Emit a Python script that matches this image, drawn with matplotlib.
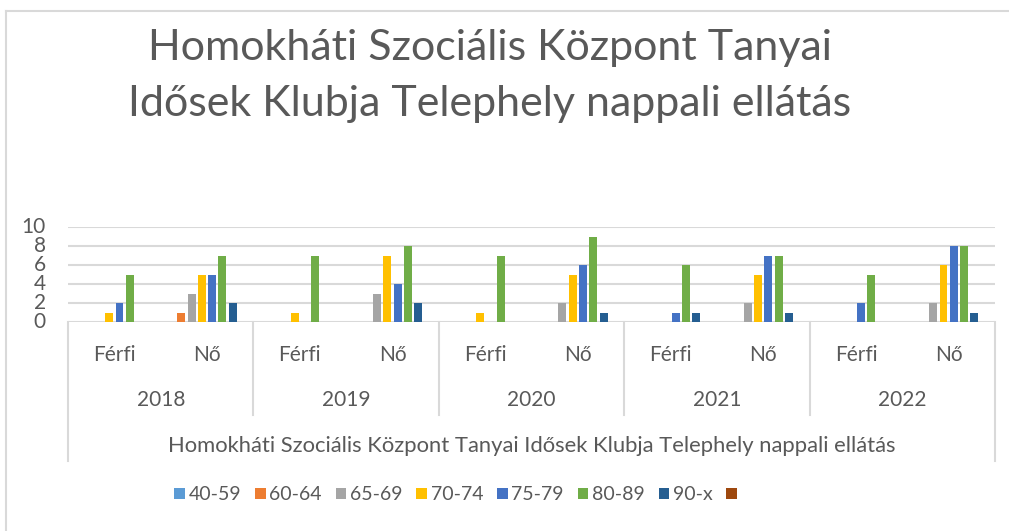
import matplotlib
matplotlib.use("Agg")
import matplotlib.pyplot as plt
from matplotlib.patches import Patch
from matplotlib.lines import Line2D
from matplotlib.transforms import blended_transform_factory
import numpy as np

plt.rcParams["font.family"] = ["Lato", "DejaVu Sans"]

W, H = 1009, 531

title = "Homokháti Szociális Központ Tanyai\nIdősek Klubja Telephely nappali ellátás"
axis_title = "Homokháti Szociális Központ Tanyai Idősek Klubja Telephely nappali ellátás"
years = ["2018", "2019", "2020", "2021", "2022"]
genders = ["Férfi", "Nő"]

series = ["40-59", "60-64", "65-69", "70-74", "75-79", "80-89", "90-x", ""]
colors = ["#5B9BD5", "#ED7D31", "#A5A5A5", "#FFC000", "#4472C4", "#70AD47", "#255E91", "#9E480E"]

# one value per category: 2018 F, 2018 N, 2019 F, 2019 N, ... 2022 N
s_40_59 = [0, 0, 0, 0, 0, 0, 0, 0, 0, 0]
s_60_64 = [0, 1, 0, 0, 0, 0, 0, 0, 0, 0]
s_65_69 = [0, 3, 0, 3, 0, 2, 0, 2, 0, 2]
s_70_74 = [1, 5, 1, 7, 1, 5, 0, 5, 0, 6]
s_75_79 = [2, 5, 0, 4, 0, 6, 1, 7, 2, 8]
s_80_89 = [5, 7, 7, 8, 7, 9, 6, 7, 5, 8]
s_90_x = [0, 2, 0, 2, 0, 1, 1, 1, 0, 1]
s_blank = [0, 0, 0, 0, 0, 0, 0, 0, 0, 0]
values = [s_40_59, s_60_64, s_65_69, s_70_74, s_75_79, s_80_89, s_90_x, s_blank]

text_col = "#595959"
grid_col = "#D9D9D9"

fig = plt.figure(figsize=(W / 100, H / 100), dpi=100)

def fx(px):
    return px / W

def fy(px):
    return 1 - px / H

ax = fig.add_axes([fx(68), fy(322), fx(995 - 68), (322 - 227) / H])

n_cat = len(s_80_89)
x = np.arange(n_cat) + 0.5
slot = 0.111
bw = 0.086
for j, (name, vals, c) in enumerate(zip(series, values, colors)):
    ax.bar(x + (j - 3.5) * slot, vals, bw, color=c, label=name, zorder=3)

ax.set_xlim(0, n_cat)
ax.set_ylim(0, 10)
ax.set_yticks(range(0, 11, 2))
ax.set_xticks([])
ax.yaxis.grid(True, color=grid_col, linewidth=1.5, zorder=0)
for sp in ax.spines.values():
    sp.set_visible(False)
ax.tick_params(axis="y", length=0, labelsize=15, labelcolor=text_col, pad=16)
for lab in ax.get_yticklabels():
    lab.set_verticalalignment("center")

# multi level category axis
tr = blended_transform_factory(ax.transData, fig.transFigure)
for i in range(n_cat):
    ax.text(x[i], fy(355), genders[i % 2], transform=tr, ha="center", va="center",
            fontsize=15, color=text_col)
for k, yr in enumerate(years):
    ax.text(2 * k + 1, fy(400), yr, transform=tr, ha="center", va="center",
            fontsize=15, color=text_col)
ax.text(n_cat / 2, fy(446), axis_title, transform=tr, ha="center", va="center",
        fontsize=15.8, color=text_col)

line_kw = dict(transform=tr, color=grid_col, linewidth=1.5, clip_on=False)
ax.add_line(Line2D([0, 0], [fy(322), fy(461)], **line_kw))
ax.add_line(Line2D([n_cat, n_cat], [fy(322), fy(461)], **line_kw))
for k in range(1, len(years)):
    ax.add_line(Line2D([2 * k, 2 * k], [fy(322), fy(415)], **line_kw))

# chart border
fig.add_artist(Line2D([fx(6), fx(6)], [0, fy(11)], color=grid_col, linewidth=1.5))
fig.add_artist(Line2D([fx(6), 1], [fy(11), fy(11)], color=grid_col, linewidth=1.5))

fig.text(fx(490), fy(76), title, ha="center", va="center", fontsize=31,
         color=text_col, linespacing=1.57)

handles = [Patch(facecolor=c) for c in colors]
fig.legend(handles, series, loc="center left", bbox_to_anchor=(fx(174), fy(495)),
           ncol=8, frameon=False, fontsize=14, handlelength=0.55, handleheight=0.55,
           handletextpad=0.2, columnspacing=0.7, borderpad=0, borderaxespad=0,
           labelcolor=text_col)

fig.savefig("out.png", dpi=100, facecolor="white")
